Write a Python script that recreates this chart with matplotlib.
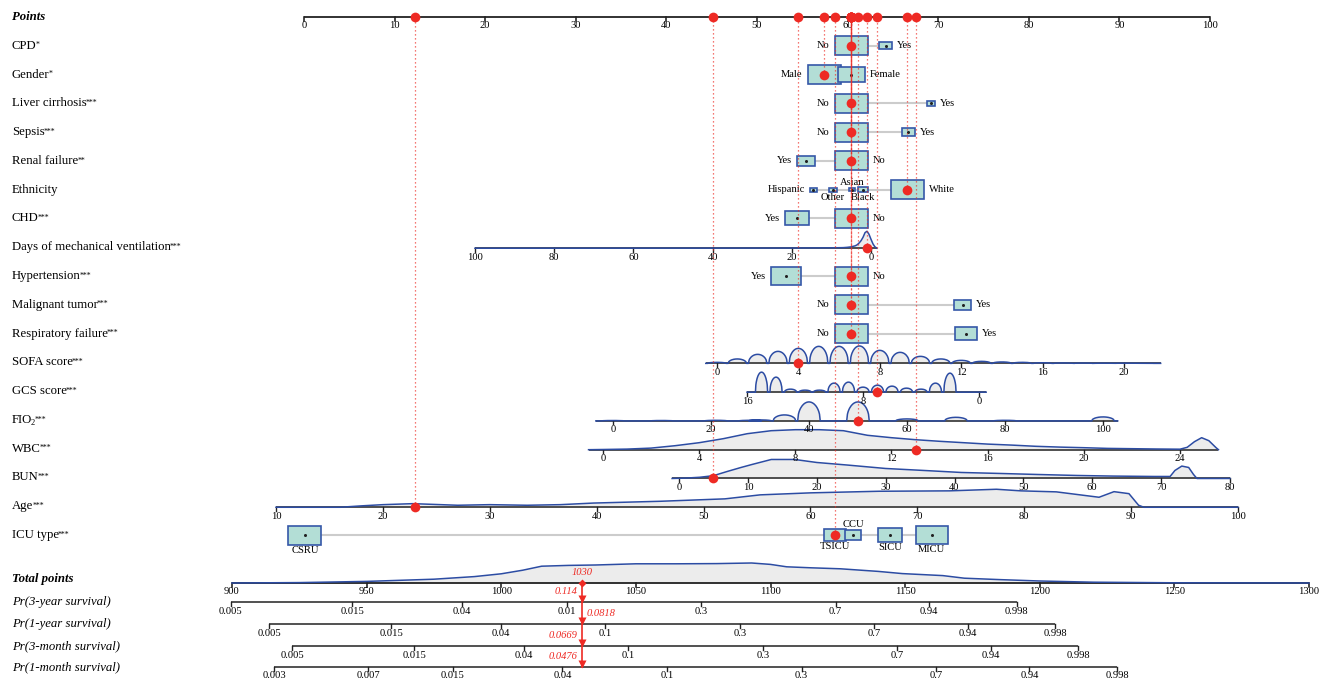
import numpy as np
import matplotlib
matplotlib.use("Agg")
import matplotlib.pyplot as plt
from matplotlib.patches import Rectangle

plt.rcParams["font.family"] = ["Liberation Serif", "DejaVu Serif"]

# ------------------------------------------------------------------ data
points_ticks = list(range(0, 101, 10))

# categorical predictors: levels, nomogram points, relative frequency, observed level
cpd_levels = ["No", "Yes"]
cpd_points = [60.4, 64.2]
cpd_share = [0.87, 0.13]
cpd_obs = "No"

gender_levels = ["Male", "Female"]
gender_points = [57.4, 60.4]
gender_share = [0.60, 0.40]
gender_obs = "Male"

liver_levels = ["No", "Yes"]
liver_points = [60.4, 69.2]
liver_share = [0.94, 0.06]
liver_obs = "No"

sepsis_levels = ["No", "Yes"]
sepsis_points = [60.4, 66.7]
sepsis_share = [0.87, 0.13]
sepsis_obs = "No"

renal_levels = ["Yes", "No"]
renal_points = [55.4, 60.4]
renal_share = [0.23, 0.77]
renal_obs = "No"

eth_levels = ["Hispanic", "Other", "Asian", "Black", "White"]
eth_points = [56.2, 58.4, 60.5, 61.7, 66.6]
eth_share = [0.036, 0.040, 0.027, 0.066, 0.831]
eth_obs = "White"

chd_levels = ["Yes", "No"]
chd_points = [54.4, 60.4]
chd_share = [0.35, 0.65]
chd_obs = "No"

htn_levels = ["Yes", "No"]
htn_points = [53.2, 60.4]
htn_share = [0.45, 0.55]
htn_obs = "No"

tumor_levels = ["No", "Yes"]
tumor_points = [60.4, 72.7]
tumor_share = [0.80, 0.20]
tumor_obs = "No"

resp_levels = ["No", "Yes"]
resp_points = [60.4, 73.1]
resp_share = [0.70, 0.30]
resp_obs = "No"

icu_levels = ["CSRU", "TSICU", "CCU", "SICU", "MICU"]
icu_points = [0.1, 58.6, 60.6, 64.7, 69.3]
icu_share = [0.32, 0.145, 0.08, 0.165, 0.29]
icu_obs = "TSICU"

# continuous predictors: (value, points) anchors, ticks, value span, density, observed value
days_anchor = [(0, 62.58), (100, 18.87)]
days_ticks = [100, 80, 60, 40, 20, 0]
days_span = [100, -1.5]
days_kde_x = [100, 40, 20, 10, 7, 6, 5, 4, 3.5, 3, 2.5, 2, 1.5, 1, 0.5, 0, -0.5, -1, -1.5]
days_kde_y = [0, 0.005, 0.01, 0.02, 0.03, 0.045, 0.07, 0.12, 0.17, 0.26, 0.38, 0.55, 0.78, 0.85, 0.7, 0.45, 0.22, 0.07, 0]
days_obs = 1

sofa_anchor = [(0, 45.58), (20, 90.51)]
sofa_ticks = [0, 4, 8, 12, 16, 20]
sofa_span = [-0.55, 21.8]
sofa_levels = list(range(0, 22))
sofa_freq = [0.05, 0.22, 0.45, 0.6, 0.75, 0.85, 0.85, 0.87, 0.65, 0.55, 0.35, 0.22,
             0.15, 0.1, 0.07, 0.05, 0.03, 0.02, 0.015, 0.01, 0.01, 0.005]
sofa_obs = 4

gcs_anchor = [(0, 74.50), (16, 48.90)]
gcs_ticks = [16, 8, 0]
gcs_span = [16, -0.5]
gcs_levels = [15, 14, 13, 12, 11, 10, 9, 8, 7, 6, 5, 4, 3, 2]
gcs_freq = [1.0, 0.75, 0.15, 0.1, 0.1, 0.45, 0.5, 0.25, 0.35, 0.3, 0.2, 0.15, 0.45, 0.95]
gcs_obs = 7

fio2_anchor = [(0, 34.10), (100, 88.19)]
fio2_ticks = [0, 20, 40, 60, 80, 100]
fio2_span = [-3.5, 103]
fio2_levels = [0, 10, 21, 28, 30, 35, 40, 50, 60, 70, 80, 100]
fio2_freq = [0.02, 0.02, 0.03, 0.03, 0.05, 0.3, 0.95, 0.95, 0.1, 0.18, 0.03, 0.2]
fio2_obs = 50

wbc_anchor = [(0, 33.00), (24, 96.69)]
wbc_ticks = [0, 4, 8, 12, 16, 20, 24]
wbc_span = [-0.6, 25.6]
wbc_kde_x = [-0.6, 0, 1, 2, 3, 4, 5, 6, 7, 8, 9, 10, 11, 12, 13, 14, 15, 16, 17, 18,
             19, 20, 21, 22, 23, 24, 24.3, 24.6, 24.9, 25.2, 25.5, 25.6]
wbc_kde_y = [0, 0.01, 0.03, 0.08, 0.2, 0.35, 0.55, 0.8, 0.95, 1.0, 1.0, 0.95, 0.72, 0.6,
             0.5, 0.42, 0.35, 0.28, 0.23, 0.17, 0.13, 0.1, 0.065, 0.05, 0.035, 0.025,
             0.12, 0.4, 0.6, 0.45, 0.1, 0]
wbc_obs = 13

bun_anchor = [(0, 41.39), (80, 102.21)]
bun_ticks = [0, 10, 20, 30, 40, 50, 60, 70, 80]
bun_span = [-1, 80]
bun_kde_x = [-1, 1, 3, 5, 7, 9, 10.6, 13.4, 16.8, 20, 24.5, 30, 35.6, 41, 46.7,
             52, 57.8, 63, 69, 71.3, 72, 73, 74, 74.7, 75.2, 80]
bun_kde_y = [0, 0.02, 0.06, 0.14, 0.35, 0.55, 0.7, 0.95, 0.95, 0.8, 0.67, 0.5, 0.4,
             0.3, 0.25, 0.2, 0.15, 0.12, 0.1, 0.1, 0.4, 0.62, 0.55, 0.2, 0, 0]
bun_obs = 5

age_anchor = [(10, -3.09), (100, 103.09)]
age_ticks = [10, 20, 30, 40, 50, 60, 70, 80, 90, 100]
age_span = [10, 100]
age_kde_x = [10, 16, 18, 20, 22.8, 27, 30, 33.5, 36.6, 39.7, 46, 52, 55.3, 60, 66.4,
             73, 77.4, 79.7, 83, 87, 88.4, 89.8, 90.7, 91.2, 100]
age_kde_y = [0, 0, 0.07, 0.13, 0.18, 0.1, 0.13, 0.1, 0.13, 0.21, 0.3, 0.42, 0.62,
             0.72, 0.8, 0.82, 0.9, 0.82, 0.77, 0.5, 0.78, 0.68, 0.1, 0, 0]
age_obs = 23

# total points and predicted probabilities
total_ticks = list(range(900, 1301, 50))
total_span = [900, 1300]
total_kde_x = [900, 925, 950, 975, 990, 1000, 1008, 1015, 1025, 1035, 1050, 1065, 1080,
               1093, 1100, 1106, 1115, 1126, 1140, 1149, 1164, 1172, 1185, 1200, 1220,
               1250, 1300]
total_kde_y = [0, 0.02, 0.08, 0.19, 0.32, 0.46, 0.64, 0.84, 0.88, 0.9, 0.96, 0.96, 0.97,
               1.0, 0.93, 0.81, 0.76, 0.71, 0.58, 0.47, 0.37, 0.24, 0.17, 0.1, 0.04,
               0.01, 0]
total_obs = 1030

surv_names = ["Pr(3-year survival)", "Pr(1-year survival)",
              "Pr(3-month survival)", "Pr(1-month survival)"]
surv_ticks = [
    [0.005, 0.015, 0.04, 0.1, 0.3, 0.7, 0.94, 0.998],
    [0.005, 0.015, 0.04, 0.1, 0.3, 0.7, 0.94, 0.998],
    [0.005, 0.015, 0.04, 0.1, 0.3, 0.7, 0.94, 0.998],
    [0.003, 0.007, 0.015, 0.04, 0.1, 0.3, 0.7, 0.94, 0.998],
]
surv_tick_text = [
    ["0.005", "0.015", "0.04", "0.01", "0.3", "0.7", "0.94", "0.998"],
    ["0.005", "0.015", "0.04", "0.1", "0.3", "0.7", "0.94", "0.998"],
    ["0.005", "0.015", "0.04", "0.1", "0.3", "0.7", "0.94", "0.998"],
    ["0.003", "0.007", "0.015", "0.04", "0.1", "0.3", "0.7", "0.94", "0.998"],
]
surv_at_obs = [0.114, 0.0818, 0.0669, 0.0476]
surv_at_obs_text = ["0.114", "0.0818", "0.0669", "0.0476"]
hazard_per_point = 0.0244   # log-hazard change per total point

# ------------------------------------------------------------------ style / layout
W, H = 1332, 684
PTS_X0, PTS_X100 = 304, 1210          # pixel span of the Points scale
TOT_X900, TOT_X1300 = 232, 1309       # pixel span of the Total points scale
ROW0, ROW_STEP = 17, 28.78
RED = "#ee2a24"
BOX_FILL = "#b3ded6"
BOX_EDGE = "#3557a8"
KDE_LINE = "#2c4ca3"
KDE_FILL = "#ececec"
GREY_LINK = "#cccccc"
BOX_W_PX, BOX_H_PX = 33, 19
KDE_PX = 20                            # pixel height of a density of 1
TICK_FS, CAT_FS, LAB_FS, STAR_FS = 7.6, 7.6, 9.2, 5.6

fig = plt.figure(figsize=(W / 100, H / 100), dpi=100)
renderer = fig.canvas.get_renderer()
ax = fig.add_axes([0, 0, 1, 1])
ppx = (PTS_X100 - PTS_X0) / 100.0
ax.set_xlim(-PTS_X0 / ppx, (W - PTS_X0) / ppx)
ax.set_ylim(H, 0)
ax.axis("off")
PX = 1.0 / ppx                         # points-scale units per pixel

ax2 = fig.add_axes([0, 0, 1, 1])
tpx = (TOT_X1300 - TOT_X900) / 400.0
ax2.set_xlim(900 - TOT_X900 / tpx, 1300 + (W - TOT_X1300) / tpx)
ax2.set_ylim(H, 0)
ax2.axis("off")
ax2.patch.set_visible(False)
TPX = 1.0 / tpx


def row_y(i):
    return ROW0 + ROW_STEP * i


POINTS_Y = row_y(0)


def left_label(y, text, stars="", sub="", **kw):
    t = fig.text(12 / W, 1 - y / H, text, ha="left", va="center", fontsize=LAB_FS, **kw)
    bb = t.get_window_extent(renderer)
    x_end = bb.x1
    if sub:
        s = fig.text((x_end - 1.2) / W, (bb.y0 - 1.0) / H, sub, ha="left", va="bottom",
                     fontsize=LAB_FS * 0.66)
        x_end = s.get_window_extent(renderer).x1
    if stars:
        fig.text((x_end - 1.0) / W, (bb.y1 - 1.5) / H, stars, ha="left", va="top",
                 fontsize=STAR_FS)


def guide(xp, y):
    ax.plot([xp, xp], [y, POINTS_Y], color=RED, lw=0.9, ls=(0, (1.0, 2.2)),
            alpha=0.85, zorder=5)
    ax.plot([xp], [POINTS_Y], "o", ms=7, color=RED, mec="none", zorder=8)
    ax.plot([xp], [y], "o", ms=7, color=RED, mec="none", zorder=8)


def draw_cat(y, levels, pts, share, obs, sides):
    smax = max(share)
    ax.plot([min(pts), max(pts)], [y, y], color=GREY_LINK, lw=1.5, zorder=2,
            solid_capstyle="butt")
    for lev, p, s, side in zip(levels, pts, share, sides):
        f = np.sqrt(s / smax)
        w = BOX_W_PX * f * PX
        h = BOX_H_PX * f
        ax.add_patch(Rectangle((p - w / 2, y - h / 2), w, h, facecolor=BOX_FILL,
                               edgecolor=BOX_EDGE, lw=1.2, zorder=3))
        ax.plot([p], [y], "o", ms=2.2, color="#222222", mec="none", zorder=4)
        if side == "left":
            ax.text(p - w / 2 - 5 * PX, y, lev, ha="right", va="center", fontsize=CAT_FS)
        elif side == "right":
            ax.text(p + w / 2 + 5 * PX, y, lev, ha="left", va="center", fontsize=CAT_FS)
        elif side == "above":
            ax.text(p, y - h / 2 - 1, lev, ha="center", va="bottom", fontsize=CAT_FS)
        else:
            ax.text(p, y + h / 2 + 1, lev, ha="center", va="top", fontsize=CAT_FS)
    guide(pts[levels.index(obs)], y)


def mapper(anchor):
    (v0, p0), (v1, p1) = anchor
    return lambda v: p0 + (np.asarray(v, float) - v0) * (p1 - p0) / (v1 - v0)


def draw_axis_line(a, y, x0, x1, tick_x, tick_txt, lw=1.1):
    a.plot([x0, x1], [y, y], color="#222222", lw=lw, zorder=2, solid_capstyle="butt")
    for tx, tt in zip(tick_x, tick_txt):
        a.plot([tx, tx], [y, y + 3.5], color="#222222", lw=lw * 0.9, zorder=2)
        a.text(tx, y + 4.5, tt, ha="center", va="top", fontsize=TICK_FS)


def draw_density(a, y, xs, hs):
    xs = np.asarray(xs, float)
    top = y - np.asarray(hs, float) * KDE_PX
    a.fill_between(xs, y, top, color=KDE_FILL, lw=0, zorder=1)
    a.plot(xs, top, color=KDE_LINE, lw=1.1, zorder=2)


def hump_profile(levels, freq, half):
    xs, hs = [], []
    u = np.linspace(-1, 1, 31)
    for v, h in sorted(zip(levels, freq)):
        xs.extend(v + half * u)
        hs.extend(h * np.sqrt(np.clip(1 - u ** 2, 0, None)))
    return np.array(xs), np.array(hs)


def draw_cont(y, anchor, ticks, span, obs, kde=None, humps=None, half=0.45):
    m = mapper(anchor)
    ya = y + 1
    draw_axis_line(ax, ya, m(span[0]), m(span[1]), m(ticks), [str(t) for t in ticks])
    if kde is not None:
        xs, hs = kde
    else:
        xs, hs = hump_profile(humps[0], humps[1], half)
        lo, hi = sorted(span)
        xs = np.concatenate([[lo], xs, [hi]])
        hs = np.concatenate([[0], hs, [0]])
    draw_density(ax, ya, m(xs), hs)
    guide(float(m(obs)), ya)


# ------------------------------------------------------------------ Points scale
left_label(POINTS_Y, "Points", fontweight="bold", fontstyle="italic")
draw_axis_line(ax, POINTS_Y, 0, 100, points_ticks, [str(t) for t in points_ticks], lw=1.3)

# ------------------------------------------------------------------ predictors
LR = ["left", "right"]
rows = [
    ("CPD", "", "*", "cat", (cpd_levels, cpd_points, cpd_share, cpd_obs, LR)),
    ("Gender", "", "*", "cat", (gender_levels, gender_points, gender_share, gender_obs, LR)),
    ("Liver cirrhosis", "", "***", "cat", (liver_levels, liver_points, liver_share, liver_obs, LR)),
    ("Sepsis", "", "***", "cat", (sepsis_levels, sepsis_points, sepsis_share, sepsis_obs, LR)),
    ("Renal failure", "", "**", "cat", (renal_levels, renal_points, renal_share, renal_obs, LR)),
    ("Ethnicity", "", "", "cat", (eth_levels, eth_points, eth_share, eth_obs,
                                  ["left", "below", "above", "below", "right"])),
    ("CHD", "", "***", "cat", (chd_levels, chd_points, chd_share, chd_obs, LR)),
    ("Days of mechanical ventilation", "", "***", "cont",
     dict(anchor=days_anchor, ticks=days_ticks, span=days_span, obs=days_obs,
          kde=(days_kde_x, days_kde_y))),
    ("Hypertension", "", "***", "cat", (htn_levels, htn_points, htn_share, htn_obs, LR)),
    ("Malignant tumor", "", "***", "cat", (tumor_levels, tumor_points, tumor_share, tumor_obs, LR)),
    ("Respiratory failure", "", "***", "cat", (resp_levels, resp_points, resp_share, resp_obs, LR)),
    ("SOFA score", "", "***", "cont",
     dict(anchor=sofa_anchor, ticks=sofa_ticks, span=sofa_span, obs=sofa_obs,
          humps=(sofa_levels, sofa_freq), half=0.45)),
    ("GCS score", "", "***", "cont",
     dict(anchor=gcs_anchor, ticks=gcs_ticks, span=gcs_span, obs=gcs_obs,
          humps=(gcs_levels, gcs_freq), half=0.42)),
    ("FIO", "2", "***", "cont",
     dict(anchor=fio2_anchor, ticks=fio2_ticks, span=fio2_span, obs=fio2_obs,
          humps=(fio2_levels, fio2_freq), half=2.3)),
    ("WBC", "", "***", "cont",
     dict(anchor=wbc_anchor, ticks=wbc_ticks, span=wbc_span, obs=wbc_obs,
          kde=(wbc_kde_x, wbc_kde_y))),
    ("BUN", "", "***", "cont",
     dict(anchor=bun_anchor, ticks=bun_ticks, span=bun_span, obs=bun_obs,
          kde=(bun_kde_x, bun_kde_y))),
    ("Age", "", "***", "cont",
     dict(anchor=age_anchor, ticks=age_ticks, span=age_span, obs=age_obs,
          kde=(age_kde_x, age_kde_y))),
    ("ICU type", "", "***", "cat", (icu_levels, icu_points, icu_share, icu_obs,
                                    ["below", "below", "above", "below", "below"])),
]

for i, (label, sub, stars, kind, spec) in enumerate(rows, start=1):
    y = row_y(i)
    left_label(y, label, stars, sub)
    if kind == "cat":
        draw_cat(y, *spec)
    else:
        draw_cont(y, **spec)

# ------------------------------------------------------------------ total points & probabilities
TOTAL_Y = 583
SURV_Y = [602, 624, 646, 667]

left_label(579, "Total points", fontweight="bold", fontstyle="italic")
draw_axis_line(ax2, TOTAL_Y, total_span[0], total_span[1], total_ticks,
               [str(t) for t in total_ticks], lw=1.3)
draw_density(ax2, TOTAL_Y, total_kde_x, total_kde_y)


def cloglog(p):
    p = np.asarray(p, float)
    return np.log(-np.log(1 - p))


label_side = ["left", "right", "left", "left"]
for name, ticks, txt, p_obs, p_txt, y, side in zip(surv_names, surv_ticks, surv_tick_text,
                                                   surv_at_obs, surv_at_obs_text, SURV_Y,
                                                   label_side):
    left_label(y, name, fontstyle="italic")
    tx = total_obs + (cloglog(ticks) - cloglog(p_obs)) / hazard_per_point
    draw_axis_line(ax2, y, tx[0], tx[-1], tx, txt, lw=1.1)
    if side == "left":
        ax2.text(total_obs - 5 * TPX, y - 6, p_txt, ha="right", va="bottom",
                 fontsize=TICK_FS, color=RED, fontstyle="italic")
    else:
        ax2.text(total_obs + 5 * TPX, y - 6, p_txt, ha="left", va="bottom",
                 fontsize=TICK_FS, color=RED, fontstyle="italic")
    ax2.plot([total_obs], [y - 3], "v", ms=6, color=RED, mec="none", zorder=9)

ax2.plot([total_obs, total_obs], [TOTAL_Y, SURV_Y[-1]], color=RED, lw=1.2, zorder=8)
ax2.plot([total_obs], [TOTAL_Y], "D", ms=4.5, color=RED, mec="none", zorder=9)
ax2.text(total_obs, TOTAL_Y - 6, str(total_obs), ha="center", va="bottom",
         fontsize=TICK_FS, color=RED, fontstyle="italic")

fig.savefig("out.png", dpi=100)
